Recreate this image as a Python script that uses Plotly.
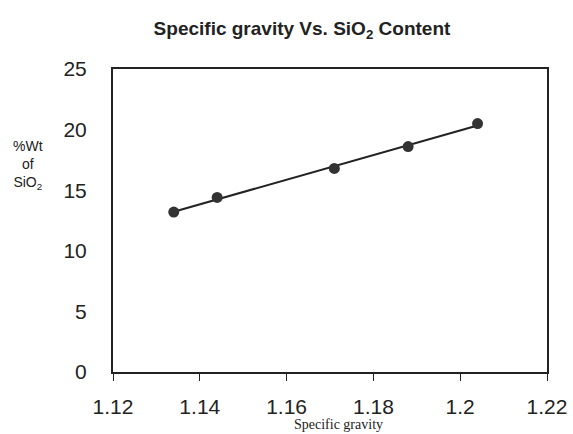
import numpy as np
import plotly.graph_objects as go

specific_gravity = [1.134, 1.144, 1.171, 1.188, 1.204]
sio2_pct = [13.2, 14.4, 16.8, 18.6, 20.5]

x_ticks = [1.12, 1.14, 1.16, 1.18, 1.2, 1.22]
x_tick_labels = ["1.12", "1.14", "1.16", "1.18", "1.2", "1.22"]
y_ticks = [0, 5, 10, 15, 20, 25]
y_tick_labels = ["0", "5", "10", "15", "20", "25"]

slope, intercept = np.polyfit(specific_gravity, sio2_pct, 1)
fit_x = [min(specific_gravity), max(specific_gravity)]
fit_y = [slope * v + intercept for v in fit_x]

fig = go.Figure()
fig.add_trace(go.Scatter(x=fit_x, y=fit_y, mode="lines",
                         line=dict(color="#222222", width=2), showlegend=False, hoverinfo="skip"))
fig.add_trace(go.Scatter(x=specific_gravity, y=sio2_pct, mode="markers",
                         marker=dict(color="#333333", size=11), showlegend=False))

fig.update_layout(
    width=573, height=434,
    margin=dict(l=113, r=26, t=69, b=62),
    paper_bgcolor="white", plot_bgcolor="white",
    font=dict(family="Liberation Sans, Arial, sans-serif", color="#222222"),
    title=dict(text="<b>Specific gravity Vs. SiO<sub>2</sub> Content</b>",
               x=0.527, xanchor="center", y=0.935, yanchor="middle",
               font=dict(size=19, color="#222222")),
    xaxis=dict(range=[1.12, 1.22], tickvals=x_ticks, ticktext=x_tick_labels,
               showgrid=False, zeroline=False, showline=True, linecolor="#222222",
               linewidth=2, mirror=True, ticks="outside", ticklen=7, tickcolor="#222222",
               ticklabelstandoff=8, automargin=False,
               tickfont=dict(size=21, color="#222222")),
    yaxis=dict(range=[0, 25], tickvals=y_ticks, ticktext=y_tick_labels,
               showgrid=False, zeroline=False, showline=True, linecolor="#222222",
               linewidth=2, mirror=True, ticks="", ticklabelstandoff=20, automargin=False,
               tickfont=dict(size=21, color="#222222")),
)

fig.add_annotation(text="%Wt<br>of<br>SiO<sub>2</sub>", xref="paper", yref="paper",
                   x=-0.196, y=0.683, xanchor="center", yanchor="middle", showarrow=False,
                   align="center", font=dict(size=14, color="#222222"))
fig.add_annotation(text="Specific gravity", xref="paper", yref="paper",
                   x=0.52, y=-0.142, xanchor="center", yanchor="top", showarrow=False,
                   font=dict(size=14, family="Liberation Serif, Times New Roman, serif", color="#222222"))

fig.write_html("out.html", config={"displayModeBar": False},
               post_script="document.body.style.margin='0px';")
